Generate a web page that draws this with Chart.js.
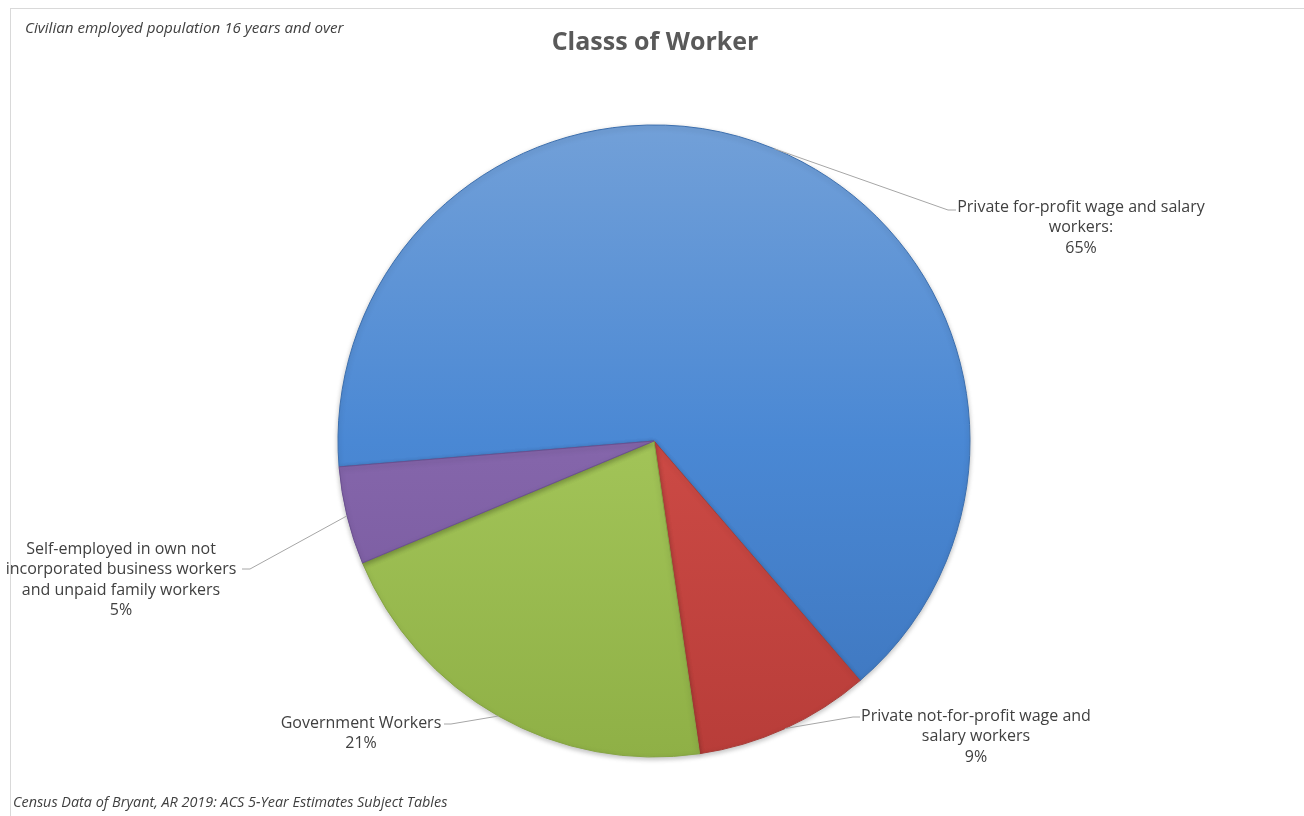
<!DOCTYPE html>
<html>
<head>
<meta charset="utf-8">
<script src="https://cdn.jsdelivr.net/npm/chart.js@4.4.1/dist/chart.umd.min.js"></script>
<style>
  html, body { margin: 0; padding: 0; background: #fff; }
  #wrap { position: relative; width: 1304px; height: 816px; overflow: hidden; }
  #frame { position: absolute; left: 10px; top: 8px; width: 1400px; height: 900px; border: 1px solid #d9d9d9; box-sizing: border-box; }
  #chart { position: absolute; left: 0; top: 0; }
  .note { position: absolute; font-family: "Open Sans", sans-serif; font-style: italic; color: #404040; white-space: nowrap; line-height: 1; }
  #title { position: absolute; left: 0; width: 1310px; top: 28px; text-align: center; font-family: "Open Sans", sans-serif; font-weight: bold; font-size: 25px; line-height: 1; color: #595959; }
</style>
</head>
<body>
<div id="wrap">
  <div id="frame"></div>
  <canvas id="chart" width="1304" height="816"></canvas>
  <div id="title">Classs of Worker</div>
  <div class="note" style="left:25px; top:20px; font-size:15.2px;">Civilian employed population 16 years and over</div>
  <div class="note" style="left:13px; top:795px; font-size:14.4px;">Census Data of Bryant, AR 2019: ACS 5-Year Estimates Subject Tables</div>
</div>
<script>
// 就業者の分類（%）
var categories = [
  'Private for-profit wage and salary workers:',
  'Private not-for-profit wage and salary workers',
  'Government Workers',
  'Self-employed in own not incorporated business workers and unpaid family workers'
];
var shares = [65, 9, 21, 5];
var percentLabels = ['65%', '9%', '21%', '5%'];

// ラベルの折り返し
var labelLines = [
  ['Private for-profit wage and salary', 'workers:'],
  ['Private not-for-profit wage and', 'salary workers'],
  ['Government Workers'],
  ['Self-employed in own not', 'incorporated business workers', 'and unpaid family workers']
];

var SLICE_COLORS = [
  ['#72a0d8', '#4a88d4', '#3d75bd'],
  ['#dc5a53', '#cc4a45', '#b83d39'],
  ['#b0d168', '#a2c458', '#8fb046'],
  ['#9478bb', '#8566ab', '#73559a']
];
var BORDER_COLORS = ['#3c6fae', '#a83c38', '#86a543', '#6a4f90'];

// ラベル配置 [中心x, 1行目y, 折れ点x, 折れ点y, 線の終点x]
var LABEL_POS = [
  [1081, 207, 948, 210, 956],
  [976, 716, 853, 717, 860],
  [361, 723, 451, 724, 444],
  [121, 549, 250, 569, 242]
];

function sliceFill(ctx) {
  var chart = ctx.chart;
  var area = chart.chartArea;
  var c = SLICE_COLORS[ctx.dataIndex];
  if (!area) return c[1];
  var g = chart.ctx.createLinearGradient(0, 125, 0, 757);
  g.addColorStop(0, c[0]);
  g.addColorStop(0.5, c[1]);
  g.addColorStop(1, c[2]);
  return g;
}

var leaderLabels = {
  id: 'leaderLabels',
  afterDatasetsDraw: function(chart) {
    var ctx = chart.ctx;
    var meta = chart.getDatasetMeta(0);
    ctx.save();
    meta.data.forEach(function(arc, i) {
      var p = arc.getProps(['x', 'y', 'startAngle', 'endAngle', 'outerRadius'], true);
      var mid = (p.startAngle + p.endAngle) / 2;
      var ex = p.x + Math.cos(mid) * p.outerRadius;
      var ey = p.y + Math.sin(mid) * p.outerRadius;
      var pos = LABEL_POS[i];
      ctx.strokeStyle = '#a6a6a6';
      ctx.lineWidth = 1;
      ctx.beginPath();
      ctx.moveTo(ex, ey);
      ctx.lineTo(pos[2], pos[3]);
      ctx.lineTo(pos[4], pos[3]);
      ctx.stroke();

      ctx.fillStyle = '#404040';
      ctx.font = '16px "Open Sans", sans-serif';
      ctx.textAlign = 'center';
      ctx.textBaseline = 'middle';
      var lines = labelLines[i].concat([percentLabels[i]]);
      lines.forEach(function(t, k) {
        ctx.fillText(t, pos[0], pos[1] + k * 20.5);
      });
    });
    ctx.restore();
  }
};

var sliceShadow = {
  id: 'sliceShadow',
  beforeDatasetsDraw: function(chart) {
    var ctx = chart.ctx;
    ctx.save();
    ctx.shadowColor = 'rgba(0,0,0,0.25)';
    ctx.shadowBlur = 5;
    ctx.shadowOffsetY = 2;
  },
  afterDatasetsDraw: function(chart) {
    chart.ctx.restore();
  }
};

new Chart(document.getElementById('chart'), {
  type: 'pie',
  data: {
    labels: categories,
    datasets: [{
      data: shares,
      backgroundColor: sliceFill,
      borderColor: BORDER_COLORS,
      borderWidth: 1,
      hoverOffset: 0,
      radius: 316
    }]
  },
  options: {
    responsive: false,
    animation: false,
    rotation: -94.7,
    layout: { padding: { left: 20, right: 16, top: 100, bottom: 34 } },
    plugins: {
      legend: { display: false },
      tooltip: { enabled: false }
    }
  },
  plugins: [sliceShadow, leaderLabels]
});
</script>
</body>
</html>
